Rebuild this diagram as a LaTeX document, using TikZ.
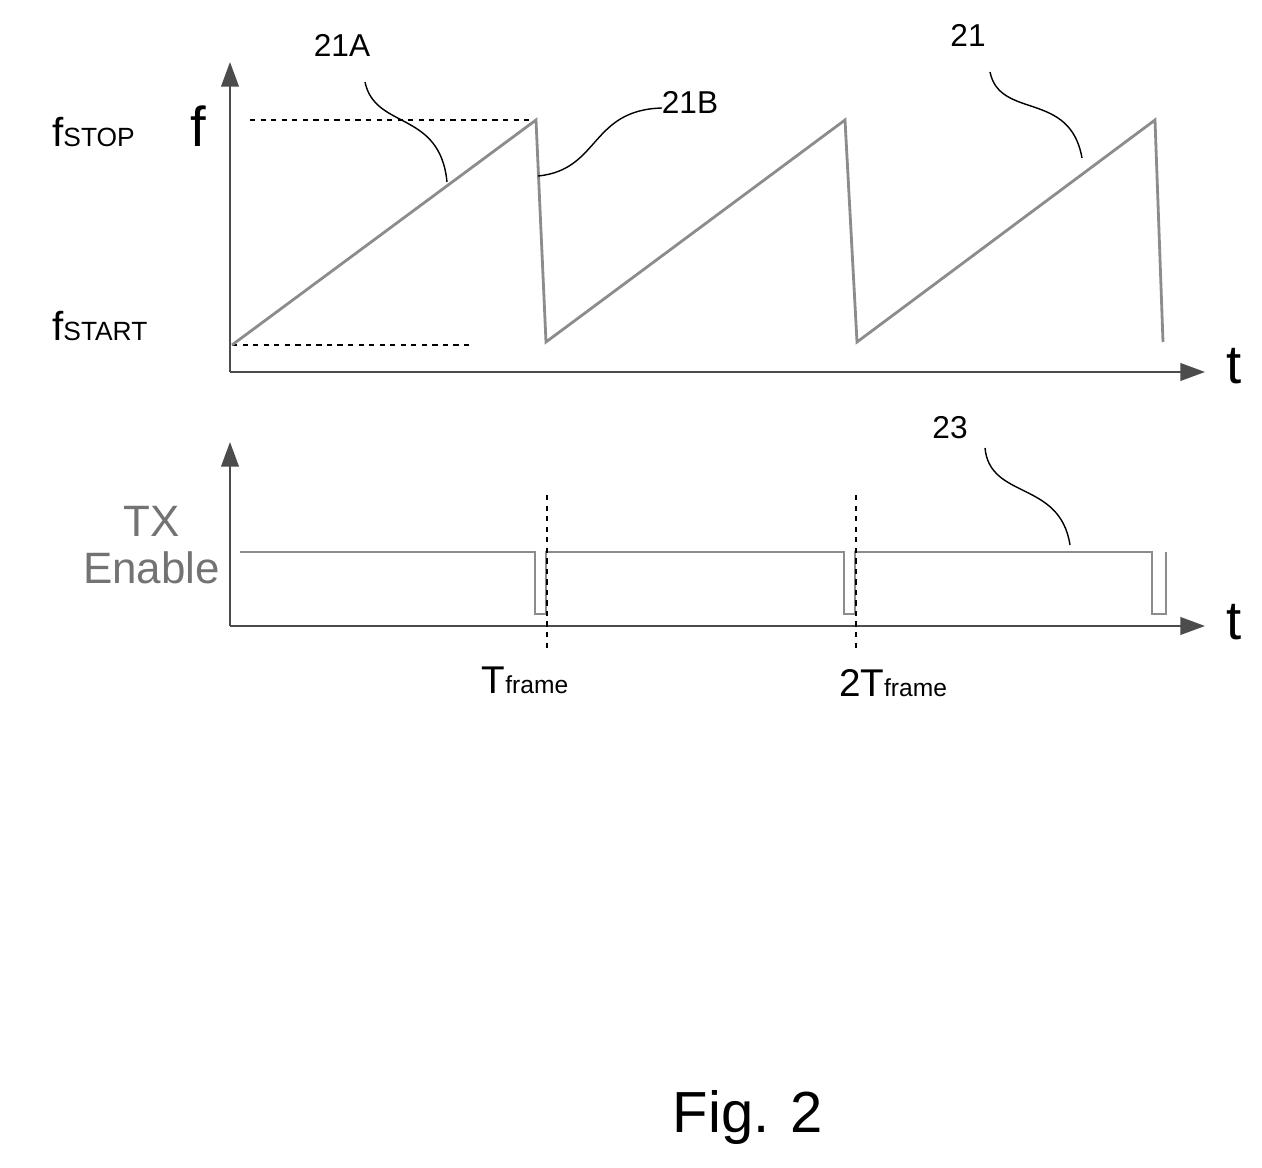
\documentclass[tikz,border=0pt]{standalone}
\usepackage{fontspec}
\setmainfont{Liberation Sans}
\usetikzlibrary{arrows.meta}
\tikzset{
  axis/.style={line width=1.2pt,-{Triangle[length=14pt,width=10pt]},black!70},
  sig/.style={line width=1.6pt,black!45},
  guide/.style={dashed,line width=0.6pt},
  lead/.style={line width=0.8pt},
  lbl/.style={font=\fontsize{18}{20}\selectfont,inner sep=1pt}
}
\begin{document}
\begin{tikzpicture}[x=0.02cm,y=-0.02cm]
\useasboundingbox (0,0) rectangle (1262,1168);
    % frequency plot
    \coordinate (o1) at (230,372);
    \coordinate (ytop1) at (230,62);
    \coordinate (xend1) at (1205,372);
    \draw[axis] (o1) -- (ytop1);
    \draw[axis] (o1) -- (xend1);
    \node[font=\fontsize{31}{31}\selectfont] (t1) at (1234,366) {t};
    \node[font=\fontsize{32}{32}\selectfont] (f) at (198,126) {f};
    \node[font=\fontsize{23}{23}\selectfont,anchor=west] (fstop) at (46,132) {f\fontsize{15}{15}\selectfont STOP};
    \node[font=\fontsize{23}{23}\selectfont,anchor=west] (fstart) at (46,326) {f\fontsize{15}{15}\selectfont START};
    \draw[guide] (250,120) -- (536,120);
    \draw[guide] (232,345) -- (472,345);
    \draw[sig] (232,345) -- (536,120) -- (546,342) -- (845,120) -- (857,342)
               -- (1155,120) -- (1163,342);
    \node[lbl] (l21A) at (342,45) {21A};
    \node[lbl] (l21B) at (690,102) {21B};
    \node[lbl] (l21) at (968,35) {21};
    \draw[lead] (365,82) .. controls (375,130) and (440,110) .. (447,182);
    \draw[lead] (538,176) .. controls (600,170) and (590,110) .. (662,108);
    \draw[lead] (990,72) .. controls (1000,120) and (1070,90) .. (1082,158);
    % TX enable plot
    \coordinate (o2) at (230,626);
    \coordinate (ytop2) at (230,442);
    \coordinate (xend2) at (1205,626);
    \draw[axis] (o2) -- (ytop2);
    \draw[axis] (o2) -- (xend2);
    \node[font=\fontsize{31}{31}\selectfont] (t2) at (1234,622) {t};
    \node[font=\fontsize{25}{27}\selectfont,text=black!55,align=center,anchor=east] (tx) at (226,545) {TX\\Enable};
    \draw[sig] (240,552) -- (535,552) -- (535,614) -- (546,614) -- (546,552)
               -- (844,552) -- (844,614) -- (855,614) -- (855,552)
               -- (1152,552) -- (1152,614) -- (1166,614) -- (1166,552);
    \draw[guide] (547,495) -- (547,652);
    \draw[guide] (856,495) -- (856,652);
    \node[font=\fontsize{22}{22}\selectfont] (tf1) at (525,680) {T\fontsize{14}{14}\selectfont frame};
    \node[font=\fontsize{22}{22}\selectfont] (tf2) at (893,683) {2T\fontsize{14}{14}\selectfont frame};
    \node[lbl] (l23) at (950,428) {23};
    \draw[lead] (985,448) .. controls (990,500) and (1060,480) .. (1070,545);
    \node[font=\fontsize{33}{33}\selectfont] (fig) at (748,1118) {Fig. 2};
\end{tikzpicture}
\end{document}
